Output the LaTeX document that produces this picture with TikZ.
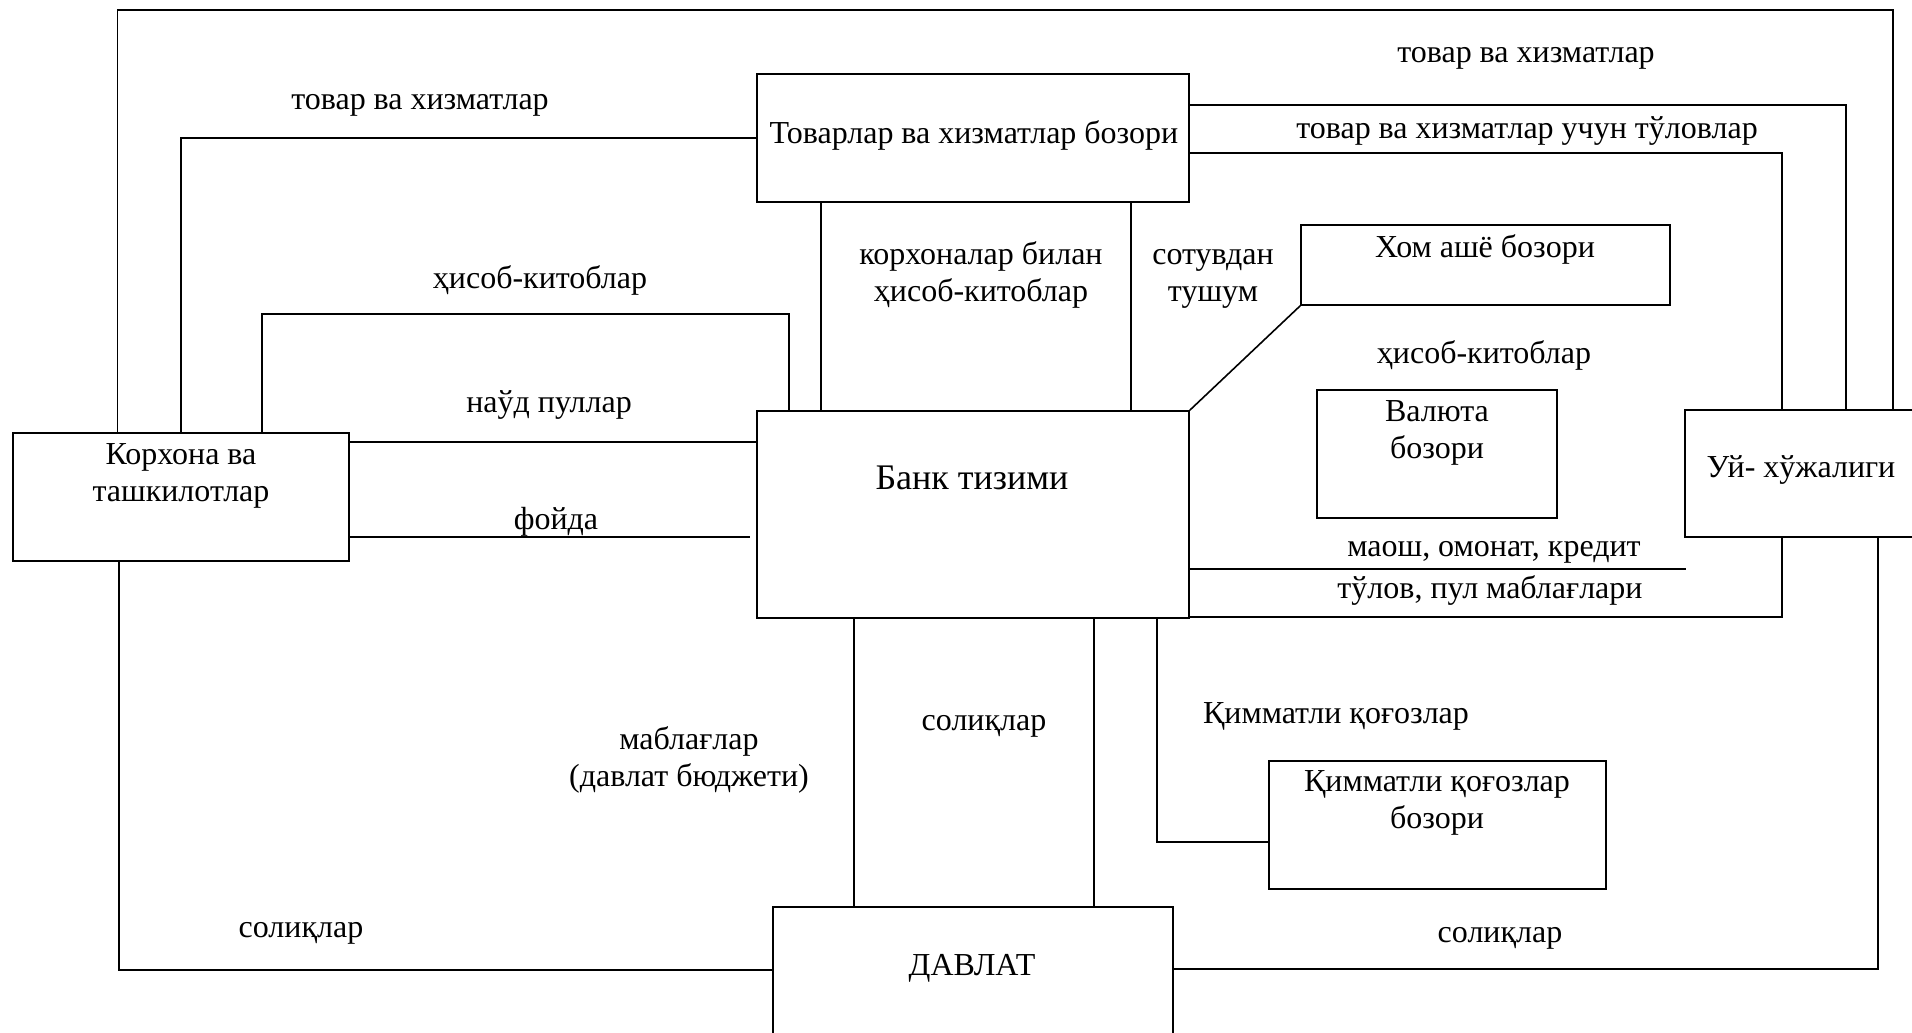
\documentclass[tikz,border=0pt]{standalone}
\usepackage{fontspec}
\setmainfont{Liberation Serif}
\usetikzlibrary{positioning}

\tikzset{
  box/.style={draw,line width=0.8pt,inner sep=0pt},
  conn/.style={line width=0.8pt},
  lbl/.style={font=\fontsize{16}{18.5}\selectfont,align=center,inner sep=0pt,yshift=-1.5pt},
}

\begin{document}
\begin{tikzpicture}[x=0.5pt,y=-0.5pt]
	\clip (0,0) rectangle (1912,1033);
	% boxes
	\node[box,minimum width=168pt,minimum height=64pt] (korh) at (181,497) {};
	\node[box,minimum width=216pt,minimum height=64pt] (tovar) at (973,138) {};
	\node[box,minimum width=184.5pt,minimum height=40pt] (xom) at (1485.5,265) {};
	\node[box,minimum width=120pt,minimum height=64pt] (valyuta) at (1437,454) {};
	\node[box,minimum width=216pt,minimum height=103.5pt] (bank) at (973,514.5) {};
	\node[box,minimum width=116.5pt,minimum height=63.5pt] (uy) at (1801.5,473.5) {};
	\node[box,minimum width=168.5pt,minimum height=64pt] (qimmat) at (1437.5,825) {};
	\node[box,minimum width=200pt,minimum height=66.5pt] (davlat) at (973,973.5) {};

	% box texts
	\node[lbl] (korh-t) at (181,473) {Корхона ва\\ташкилотлар};
	\node[lbl] (tovar-t) at (974,132) {Товарлар ва хизматлар бозори};
	\node[lbl] (xom-t) at (1485,246) {Хом ашё бозори};
	\node[lbl] (valyuta-t) at (1437,430) {Валюта\\бозори};
	\node[lbl,font=\fontsize{18}{21}\selectfont,yshift=1.5pt] (bank-t) at (972,478) {Банк тизими};
	\node[lbl] (uy-t) at (1801,467) {Уй- хўжалиги};
	\node[lbl] (qimmat-t) at (1437,800) {Қимматли қоғозлар\\бозори};
	\node[lbl] (davlat-t) at (972,965) {ДАВЛАТ};

	% bend points
	\coordinate (tl) at (117.5,10);
	\coordinate (tr) at (1893,10);
	\coordinate (tv1) at (181,138);
	\coordinate (hk1) at (262,314);
	\coordinate (hk2) at (789,314);
	\coordinate (nd) at (553,442);
	\coordinate (fd) at (750,537);
	\coordinate (kb1) at (821,300);
	\coordinate (st1) at (1131,300);
	\coordinate (tt1) at (1846,105);
	\coordinate (tt2) at (1782,153);
	\coordinate (ms) at (1686,569);
	\coordinate (tl2) at (1782,617);
	\coordinate (sl1) at (1878,969);
	\coordinate (sl2) at (119,970);
	\coordinate (mb) at (854,760);
	\coordinate (sq) at (1094,760);
	\coordinate (qq) at (1157,842);

	% connectors
	\draw[conn] (korh.north -| tl) -- (tl) -- (tr) -- (uy.north -| tr);
	\draw[conn] (tovar.west) -- (tv1) -- (korh.north -| tv1);
	\draw[conn] (korh.north -| hk1) -- (hk1) -- (hk2) -- (bank.north -| hk2);
	\draw[conn] (korh.east |- nd) -- (bank.west |- nd);
	\draw[conn] (korh.east |- fd) -- (fd);
	\draw[conn] (tovar.south -| kb1) -- (bank.north -| kb1);
	\draw[conn] (tovar.south -| st1) -- (bank.north -| st1);
	\draw[conn] (tovar.east |- tt1) -- (tt1) -- (uy.north -| tt1);
	\draw[conn] (tovar.east |- tt2) -- (tt2) -- (uy.north -| tt2);
	\draw[conn] (xom.south west) -- (bank.north east);
	\draw[conn] (bank.east |- ms) -- (ms);
	\draw[conn] (uy.south -| tl2) -- (tl2) -- (bank.east |- tl2);
	\draw[conn] (uy.south -| sl1) -- (sl1) -- (davlat.east |- sl1);
	\draw[conn] (korh.south -| sl2) -- (sl2) -- (davlat.west |- sl2);
	\draw[conn] (bank.south -| mb) -- (davlat.north -| mb);
	\draw[conn] (bank.south -| sq) -- (davlat.north -| sq);
	\draw[conn] (bank.south -| qq) -- (qq) -- (qimmat.west |- qq);

	% flow labels
	\node[lbl] (l-tovar1) at (420,102) {товар ва хизматлар};
	\node[lbl] (l-hisob1) at (540,277) {ҳисоб-китоблар};
	\node[lbl] (l-naud) at (549,402) {наўд пуллар};
	\node[lbl] (l-foyda) at (556,519) {фойда};
	\node[lbl] (l-korhbil) at (981,272) {корхоналар билан\\ҳисоб-китоблар};
	\node[lbl] (l-sotuv) at (1213,276) {сотувдан\\тушум};
	\node[lbl] (l-tovar2) at (1526,55) {товар ва хизматлар};
	\node[lbl] (l-tolov) at (1527,128) {товар ва хизматлар учун тўловлар};
	\node[lbl] (l-hisob2) at (1484,352) {ҳисоб-китоблар};
	\node[lbl] (l-maosh) at (1494,549) {маош, омонат, кредит};
	\node[lbl] (l-pul) at (1490,587) {тўлов, пул маблағлари};
	\node[lbl] (l-mablag) at (689,757) {маблағлар\\(давлат бюджети)};
	\node[lbl] (l-soliq1) at (984,723) {солиқлар};
	\node[lbl] (l-qimmat) at (1336,713) {Қимматли қоғозлар};
	\node[lbl] (l-soliq2) at (301,930) {солиқлар};
	\node[lbl] (l-soliq3) at (1500,935) {солиқлар};
\end{tikzpicture}
\end{document}
